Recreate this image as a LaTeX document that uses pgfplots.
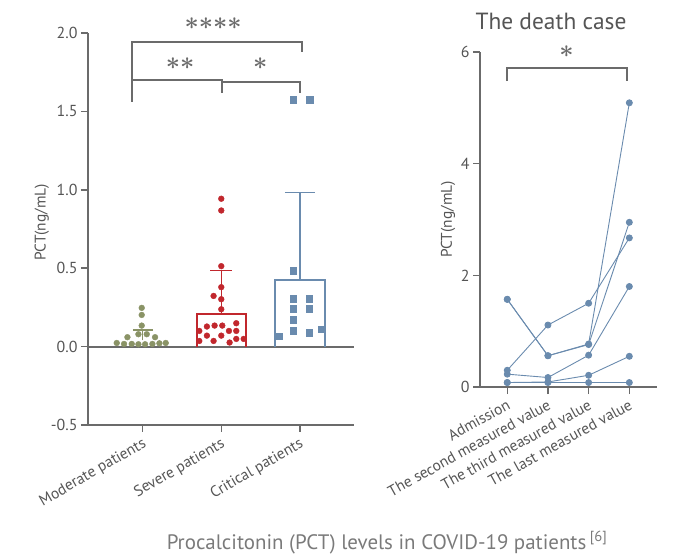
\documentclass[border=0pt]{standalone}
\usepackage{amsmath}
\usepackage{pgfplots}
\pgfplotsset{compat=1.18}
\usepackage{fontspec}
\setmainfont{PT Sans}
\definecolor{axgray}{HTML}{6B6B6B}
\definecolor{txtgray}{HTML}{555555}
\definecolor{capgray}{HTML}{7A7A7A}
\definecolor{modgreen}{HTML}{8A9366}
\definecolor{sevred}{HTML}{C1272D}
\definecolor{critblue}{HTML}{6A8BAE}
\newcommand\st{\ensuremath{\boldsymbol{\ast}}}
\begin{document}
\begin{tikzpicture}
\useasboundingbox (0bp,0bp) rectangle (677bp,555bp);
\pgfplotsset{
 panel/.style={
  scale only axis, axis lines=left, axis line style={-, line width=2bp, axgray},
  tick style={line width=1.5bp, axgray}, major tick length=7bp, tick align=outside,
  ticklabel style={font=\fontsize{16}{18}\selectfont, text=txtgray},
  label style={font=\fontsize{15.5}{18}\selectfont, text=txtgray},
  clip=false,
 },
 brk/.style={axgray, line width=2bp, no markers},
 pt/.style={critblue, line width=0.9bp, mark=*, mark size=3bp, mark options={fill=critblue, draw=critblue}},
}
% ---------------- left panel ----------------
\begin{axis}[panel, at={(88bp,130bp)}, anchor=south west, width=266bp, height=392bp,
  xmin=-0.697, xmax=2.69, ymin=-0.5, ymax=2.0,
  xtick={0,1,2}, xticklabels={Moderate patients, Severe patients, Critical patients},
  ytick={-0.5,0,0.5,1,1.5,2}, yticklabels={-0.5,0.0,0.5,1.0,1.5,2.0},
  xticklabel style={rotate=30, anchor=north east, font=\fontsize{15.5}{18}\selectfont},
  ylabel={PCT(ng/mL)}, ylabel style={at={(rel axis cs:-0.174,0.517)}, anchor=center},
]
\addplot[axgray, line width=2bp, no markers] coordinates {(-0.697,0) (2.69,0)};
% bars
\addplot[sevred, line width=1.8bp, no markers] coordinates {(0.688,0) (0.688,0.21) (1.312,0.21) (1.312,0)};
\addplot[critblue, line width=1.8bp, no markers] coordinates {(1.689,0) (1.689,0.425) (2.322,0.425) (2.322,0)};
% error bars
\addplot[modgreen, line width=1.5bp, no markers] coordinates {(0,0.04) (0,0.106)};
\addplot[modgreen, line width=1.5bp, no markers] coordinates {(-0.127,0.106) (0.127,0.106)};
\addplot[sevred, line width=1.5bp, no markers] coordinates {(1,0.21) (1,0.485)};
\addplot[sevred, line width=1.5bp, no markers] coordinates {(0.86,0.485) (1.14,0.485)};
\addplot[critblue, line width=1.5bp, no markers] coordinates {(2,0.425) (2,0.983)};
\addplot[critblue, line width=1.5bp, no markers] coordinates {(1.81,0.983) (2.19,0.983)};
% points
\addplot[only marks, mark=*, mark size=2.9bp, modgreen] coordinates {
(-0.013,0.247) (-0.013,0.202) (-0.013,0.134) (-0.055,0.079) (0.051,0.079)
(-0.195,0.06) (0.157,0.06) (-0.331,0.023) (-0.238,0.017) (-0.140,0.017)
(-0.055,0.015) (0.030,0.015) (0.123,0.017) (0.212,0.021) (0.293,0.023)};
\addplot[only marks, mark=*, mark size=2.9bp, sevred] coordinates {
(1,0.943) (1,0.868) (1,0.513) (1,0.379) (0.902,0.323) (1,0.302) (1,0.238)
(0.72,0.10) (0.817,0.128) (0.915,0.134) (1.013,0.134) (1.098,0.10) (1.191,0.149)
(1.191,0.10) (0.817,0.07) (1,0.07) (0.72,0.036) (0.902,0.036) (1.106,0.026)
(1.191,0.049) (1.285,0.049)};
\addplot[only marks, mark=square*, mark size=3.3bp, critblue] coordinates {
(1.915,1.573) (2.127,1.573) (1.915,0.483) (1.915,0.304) (2.119,0.304)
(1.915,0.24) (2.119,0.24) (1.915,0.17) (1.915,0.10) (2.119,0.09)
(1.732,0.066) (2.276,0.11)};
% significance brackets
\addplot[brk] coordinates {(-0.14,1.5625) (-0.14,1.945) (2.025,1.945) (2.025,1.881)};
\addplot[brk] coordinates {(-0.14,1.70) (1.006,1.70) (1.006,1.616)};
\addplot[brk] coordinates {(1.006,1.69) (2.0,1.69) (2.0,1.616)};
\node[anchor=base, text=axgray, font=\fontsize{26}{28}\selectfont] at (axis cs:0.896,2.022) {\st\st\st\st};
\node[anchor=base, text=axgray, font=\fontsize{26}{28}\selectfont] at (axis cs:0.475,1.768) {\st\st};
\node[anchor=base, text=axgray, font=\fontsize{26}{28}\selectfont] at (axis cs:1.497,1.768) {\st};
\end{axis}
% ---------------- right panel ----------------
\begin{axis}[panel, at={(480bp,168bp)}, anchor=south west, width=177bp, height=335bp,
  xmin=-0.67, xmax=3.68, ymin=0, ymax=6,
  xtick={0,1,2,3},
  xticklabels={Admission, The second measured value, The third measured value, The last measured value},
  ytick={0,2,4,6}, yticklabels={0,2,4,6},
  xticklabel style={rotate=29, anchor=north east, font=\fontsize{15.5}{18}\selectfont},
  ylabel={PCT(ng/mL)}, ylabel style={at={(rel axis cs:-0.181,0.5)}, anchor=center},
]
\addplot[pt] coordinates {(0,1.57) (1,0.56) (2,0.77) (3,5.09)};
\addplot[pt] coordinates {(0,1.57) (1,0.56) (2,0.76) (3,2.95)};
\addplot[pt] coordinates {(0,0.30) (1,1.11) (2,1.50) (3,2.67)};
\addplot[pt] coordinates {(0,0.23) (1,0.17) (2,0.57) (3,1.80)};
\addplot[pt] coordinates {(0,0.08) (1,0.09) (2,0.21) (3,0.55)};
\addplot[pt] coordinates {(0,0.08) (1,0.08) (2,0.08) (3,0.08)};
\addplot[brk] coordinates {(0,5.48) (0,5.709) (2.936,5.709) (2.936,5.48)};
\node[anchor=base, text=axgray, font=\fontsize{26}{28}\selectfont] at (axis cs:1.456,5.90) {\st};
\end{axis}
\node[font=\fontsize{23.5}{26}\selectfont, text=txtgray] at (551bp,534bp) {The death case};
\node[anchor=base, font=\fontsize{21}{24}\selectfont, text=capgray] at (387bp,6bp)
  {Procalcitonin (PCT) levels in COVID-19 patients\,\textsuperscript{[6]}};
\end{tikzpicture}
\end{document}
